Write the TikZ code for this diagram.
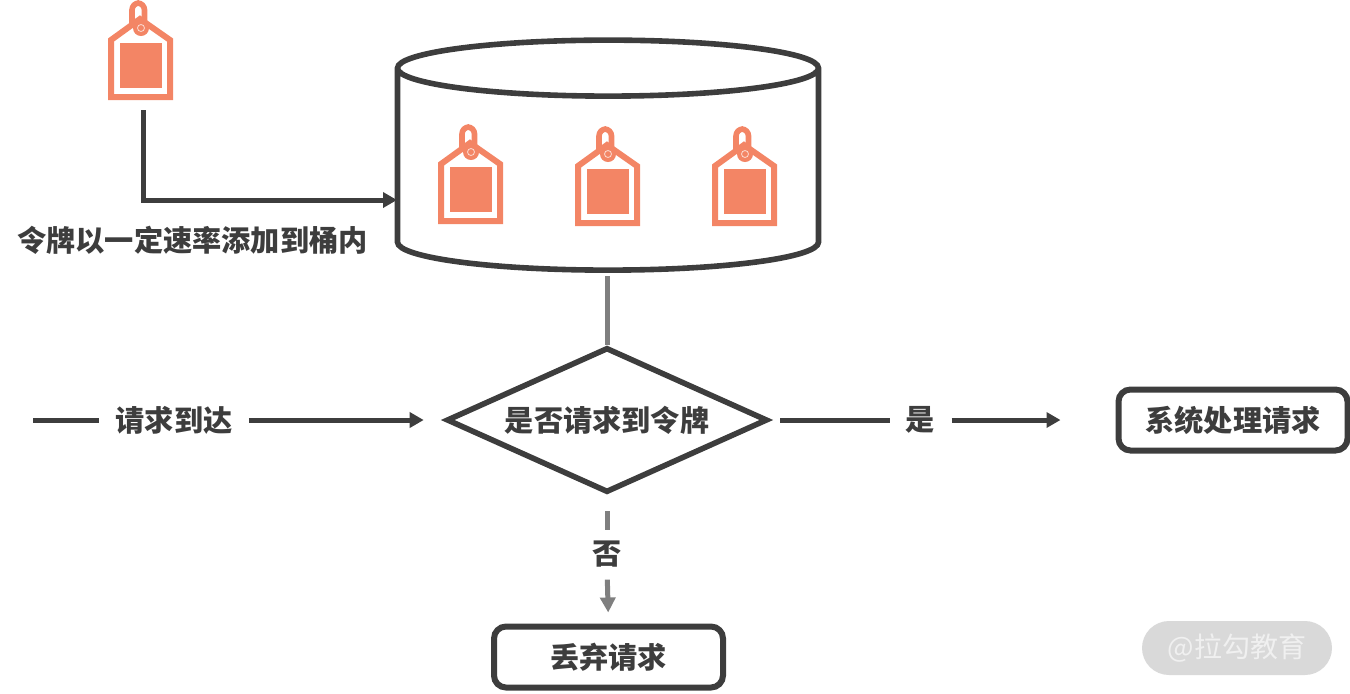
\documentclass[tikz,border=0pt]{standalone}
\usepackage{fontspec}
\setmainfont{Noto Sans CJK SC}
\usepackage{tikz}
\usetikzlibrary{arrows.meta,positioning,shapes.geometric}
\usepackage{xcolor}
\definecolor{ink}{HTML}{3D3D3D}
\definecolor{link}{HTML}{7F7F7F}
\definecolor{token}{HTML}{F38565}
\definecolor{stamp}{HTML}{D9D9D9}
\definecolor{stamptext}{HTML}{F0F0F0}
\tikzset{
  tiplabel/.style={font=\bfseries\fontsize{14.6}{16}\selectfont, text=ink, inner sep=0pt},
  flowlabel/.style={tiplabel, inner xsep=8pt},
  resultbox/.style={draw=ink, line width=3pt, rounded corners=6pt, fill=white,
    minimum width=114.5pt, minimum height=30.5pt, tiplabel},
  darkline/.style={draw=ink, line width=2.5pt},
  greyline/.style={draw=link, line width=2.5pt},
  darkarrow/.style={darkline, -{Triangle[length=7pt,width=7.5pt]}},
  greyarrow/.style={greyline, -{Triangle[length=7.5pt,width=7.5pt]}},
  pics/tokentag/.style={code={
    \draw[token, line width=2.8pt, rounded corners=3.5pt] (-8,12) -- (-8,-16) -- (4.5,-16) -- (4.5,12);
    \draw[token, fill=white, line width=3pt, line join=miter] (0,0) -- (30,21) -- (30,78) -- (-29,78) -- (-29,21) -- cycle;
    \fill[token] (-20,24) rectangle (22,69);
    \fill[token] (1,9) circle (8);
    \draw[token!30!white, line width=.4pt] (1,9) circle (3.5);
  }}
}
\begin{document}
\begin{tikzpicture}[x=0.5pt,y=-0.5pt]
  \useasboundingbox (0,0) rectangle (1350,693);
  \pic at (140,19) {tokentag};
  \coordinate (tagdrop) at (143,110);
  \node[cylinder, shape border rotate=90, shape aspect=4.2, draw=ink, line width=2.8pt,
        minimum width=210.5pt, minimum height=115pt] (bucket) at (608,174) {};
  \pic at (470,143) {tokentag};
  \pic at (607,145) {tokentag};
  \pic at (744,145) {tokentag};
  \coordinate (bucketin) at (397,200);
  \coordinate (bucketout) at (607,276);
  \coordinate (reqstart) at (33,420);
  \node[tiplabel] (ratetext) at (192.5,240) {令牌以一定速率添加到桶内};
  \node[diamond, draw=ink, line width=2.8pt, aspect=2.21, inner sep=0pt,
        minimum width=160.5pt, minimum height=72.5pt, tiplabel] (choice) at (607,420) {是否请求到令牌};
  \node[flowlabel] (reqtext) at (174,420) {请求到达};
  \node[flowlabel] (yestext) at (920.5,420) {是};
  \node[tiplabel] (notext) at (607,554) {否};
  \node[resultbox] (handle) at (1233,420) {系统处理请求};
  \node[resultbox] (drop) at (608.5,657) {丢弃请求};
  \node[fill=stamp, rounded corners=13.5pt, minimum width=95pt, minimum height=27pt,
        text=stamptext, inner sep=0pt, font=\fontsize{14}{16}\selectfont] (stamp) at (1237,648) {@拉勾教育};
  \draw[darkarrow] (tagdrop) |- (bucketin);
  \draw[greyline] (bucketout) -- (choice.north);
  \draw[darkline] (reqstart) -- (reqtext.west);
  \draw[darkarrow, shorten >=10pt] (reqtext.east) -- (choice.west);
  \draw[darkline, shorten <=5pt] (choice.east) -- (yestext.west);
  \draw[darkarrow, shorten >=27.5pt] (yestext.east) -- (handle.west);
  \draw[greyline, shorten <=8pt, shorten >=5pt] (choice.south) -- (notext.north);
  \draw[greyarrow, shorten <=6pt, shorten >=5.5pt] (notext.south) -- (drop.north);
\end{tikzpicture}
\end{document}
